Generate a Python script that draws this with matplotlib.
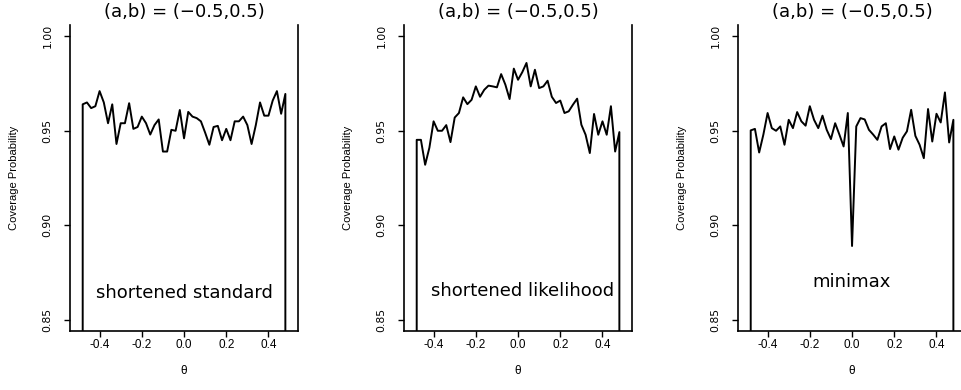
import matplotlib.pyplot as plt
import numpy as np

# theta grid of the simulation
theta = [-0.48, -0.46, -0.44, -0.42, -0.40, -0.38, -0.36, -0.34, -0.32, -0.30,
         -0.28, -0.26, -0.24, -0.22, -0.20, -0.18, -0.16, -0.14, -0.12, -0.10,
         -0.08, -0.06, -0.04, -0.02, 0.00, 0.02, 0.04, 0.06, 0.08, 0.10,
         0.12, 0.14, 0.16, 0.18, 0.20, 0.22, 0.24, 0.26, 0.28, 0.30,
         0.32, 0.34, 0.36, 0.38, 0.40, 0.42, 0.44, 0.46, 0.48]

# coverage drops off the plot at the boundary
edge_low = 0.5

cov_standard = [0.964, 0.965, 0.962, 0.963, 0.971, 0.965, 0.954, 0.964, 0.943, 0.954,
                0.954, 0.9646, 0.951, 0.952, 0.9575, 0.954, 0.948, 0.953, 0.956, 0.939,
                0.939, 0.9505, 0.950, 0.961, 0.946, 0.960, 0.9575, 0.9567, 0.955, 0.949,
                0.9426, 0.952, 0.9526, 0.945, 0.951, 0.945, 0.955, 0.955, 0.9575, 0.953,
                0.943, 0.953, 0.965, 0.958, 0.958, 0.966, 0.971, 0.959, 0.9695]

cov_likelihood = [0.9452, 0.9452, 0.932, 0.941, 0.955, 0.950, 0.950, 0.953, 0.944, 0.957,
                  0.9594, 0.9677, 0.9641, 0.9664, 0.9735, 0.968, 0.9717, 0.9739, 0.9735, 0.973,
                  0.980, 0.9744, 0.9668, 0.9829, 0.977, 0.981, 0.9859, 0.9735, 0.9823, 0.9726,
                  0.9735, 0.9765, 0.968, 0.9647, 0.966, 0.9594, 0.9603, 0.9638, 0.967, 0.9532,
                  0.9479, 0.9382, 0.9589, 0.9479, 0.955, 0.9479, 0.963, 0.939, 0.9493]

cov_minimax = [0.9502, 0.951, 0.9385, 0.948, 0.9594, 0.9514, 0.950, 0.9523, 0.9426, 0.9558,
               0.9514, 0.9599, 0.955, 0.9527, 0.963, 0.9558, 0.9514, 0.958, 0.9505, 0.9456,
               0.954, 0.948, 0.9417, 0.9594, 0.889, 0.9523, 0.9567, 0.956, 0.9505, 0.948,
               0.9452, 0.9523, 0.954, 0.9403, 0.947, 0.940, 0.9463, 0.9497, 0.9611, 0.9473,
               0.9426, 0.9355, 0.9615, 0.9443, 0.959, 0.9544, 0.9703, 0.9438, 0.9558]

series = [cov_standard, cov_likelihood, cov_minimax]
titles = ["(a,b) = (\u22120.5,0.5)"] * 3
labels = ["shortened standard", "shortened likelihood", "minimax"]
label_x = [0.0, 0.02, 0.0]
label_y = [0.8613, 0.8627, 0.8671]

xticks = [-0.4, -0.2, 0.0, 0.2, 0.4]
yticks = [0.85, 0.90, 0.95, 1.00]
ytick_labels = ["0.85", "0.90", "0.95", "1.00"]

fig = plt.figure(figsize=(9.62, 3.9), dpi=100)
lefts = [0.0728, 0.42, 0.7672]

for i in range(3):
    ax = fig.add_axes([lefts[i], 0.1513, 0.237, 0.7846])
    xs = [theta[0]] + theta + [theta[-1]]
    ys = [edge_low] + series[i] + [edge_low]
    ax.plot(xs, ys, color="black", lw=1.4)

    ax.set_xlim(-0.54, 0.54)
    ax.set_ylim(0.844, 1.006)
    ax.spines["top"].set_visible(False)
    for s in ["left", "right", "bottom"]:
        ax.spines[s].set_linewidth(1.2)

    ax.set_xticks(xticks)
    ax.set_xticklabels(["%.1f" % t for t in xticks], family="Liberation Sans", fontsize=8.5)
    ax.set_yticks(yticks)
    ax.set_yticklabels(ytick_labels, rotation=90, va="center", fontsize=7.8)
    ax.tick_params(axis="x", length=4, width=1, pad=1.5)
    ax.tick_params(axis="y", length=4, width=1, pad=8.5)

    ax.set_title(titles[i], fontsize=13, pad=5.4)
    ax.set_ylabel("Coverage Probability", family="Liberation Sans", fontsize=8)
    ax.yaxis.set_label_coords(-0.225, 0.5)
    ax.set_xlabel("\u03b8", family="Liberation Sans", fontsize=8.5)
    ax.xaxis.set_label_coords(0.5, -0.112)

    ax.text(label_x[i], label_y[i], labels[i], ha="center", va="baseline", fontsize=13)

fig.savefig("out.png", dpi=100)
